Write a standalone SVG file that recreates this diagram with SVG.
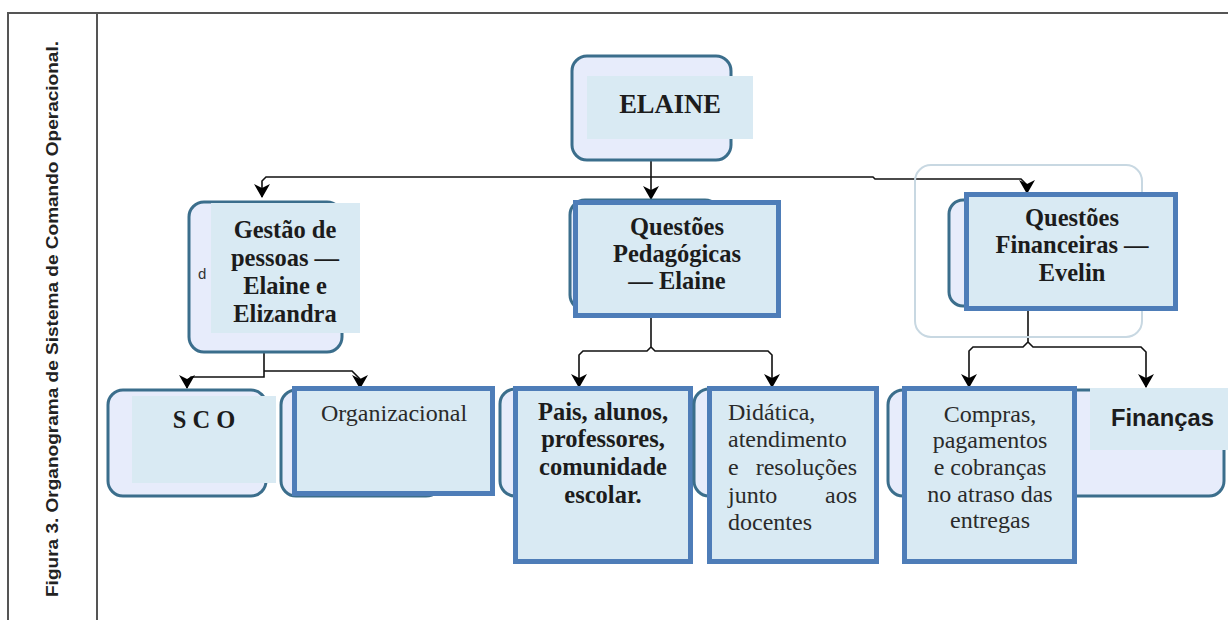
<svg xmlns="http://www.w3.org/2000/svg" width="1228" height="620" viewBox="0 0 1228 620">
<defs>
<marker id="arr" viewBox="0 0 14 16" refX="13" refY="8" markerWidth="14" markerHeight="16" markerUnits="userSpaceOnUse" orient="auto">
<path d="M0,0 L14,8 L0,16 L4,8 Z" fill="#000"/>
</marker>
</defs>
<style>
.round{fill:#e7ecfb;stroke:#3b6e8c;stroke-width:3}
.front{fill:#d9eaf3;stroke:#4e7db8;stroke-width:5}
.over{fill:#d9eaf3;stroke:none}
.faint{fill:none;stroke:#c8d8e2;stroke-width:2}
.b{font-family:"Liberation Serif",serif;font-weight:bold;font-size:24.5px;fill:#1c1c1c;text-anchor:middle}
.big{font-size:26.5px}
.r{font-family:"Liberation Serif",serif;font-size:24px;fill:#2a2a2a}
.rc{text-anchor:middle}
.conn{fill:none;stroke:#111;stroke-width:1.6}
.frame{fill:none;stroke:#555;stroke-width:2}
</style>
<rect width="1228" height="620" fill="#fff"/>
<g id="frame">
<path class="frame" d="M1228,13 L8,13 L8,620 M97,13 L97,620"/>
<text x="0" y="0" transform="translate(58,319) rotate(-90)" text-anchor="middle" font-family="'Liberation Sans',sans-serif" font-weight="bold" font-size="16.5" fill="#222" textLength="556" lengthAdjust="spacingAndGlyphs">Figura 3. Organograma de Sistema de Comando Operacional.</text>
</g>
<g id="connectors">
<path class="conn" d="M651,160 L651,199" marker-end="url(#arr)"/>
<path class="conn" d="M651,177 L266,177 L262,181 L262,197" marker-end="url(#arr)"/>
<path class="conn" d="M651,177 L873,177 L875,179 L1021,179 L1027,185 L1027,193" marker-end="url(#arr)"/>
<path class="conn" d="M264,353 L264,377 L191,377 L187,381 L187,388" marker-end="url(#arr)"/>
<path class="conn" d="M264,371 L352,371 L360,379 L360,388" marker-end="url(#arr)"/>
<path class="conn" d="M651,317 L651,347 L647,351 L583,351 L579,355 L579,387" marker-end="url(#arr)"/>
<path class="conn" d="M651,347 L655,351 L768,351 L772,355 L772,387" marker-end="url(#arr)"/>
<path class="conn" d="M1028,311 L1028,342 L1023,347 L973,347 L969,351 L969,387" marker-end="url(#arr)"/>
<path class="conn" d="M1028,342 L1033,347 L1141,347 L1146,352 L1146,387" marker-end="url(#arr)"/>
</g>
<g id="elaine">
<rect class="round" x="572" y="56" width="159" height="104" rx="15"/>
<rect class="over" x="587" y="76" width="166" height="63"/>
<text class="b big" x="670" y="113">ELAINE</text>
</g>
<g id="gestao">
<rect class="round" x="189" y="202" width="153" height="150" rx="15"/>
<rect class="over" x="211" y="203" width="149" height="130"/>
<text x="198" y="279" font-family="'Liberation Sans',sans-serif" font-size="15" fill="#333">d</text>
<text class="b" x="285" y="238">Gestão de</text>
<text class="b" x="285" y="266">pessoas —</text>
<text class="b" x="285" y="294">Elaine e</text>
<text class="b" x="285" y="322">Elizandra</text>
</g>
<g id="pedagogicas">
<rect class="round" x="570" y="200" width="150" height="110" rx="15"/>
<rect class="front" x="575.5" y="202.5" width="203" height="113"/>
<text class="b" x="677" y="235">Questões</text>
<text class="b" x="677" y="262">Pedagógicas</text>
<text class="b" x="677" y="289">— Elaine</text>
</g>
<g id="financeiras">
<rect class="faint" x="915" y="165" width="227" height="172" rx="16"/>
<rect class="round" x="949" y="200" width="60" height="106" rx="14"/>
<rect class="front" x="966.5" y="194.5" width="209" height="114"/>
<text class="b" x="1072" y="226">Questões</text>
<text class="b" x="1072" y="253">Financeiras —</text>
<text class="b" x="1072" y="281">Evelin</text>
</g>
<g id="sco">
<rect class="round" x="108" y="390" width="158" height="106" rx="15"/>
<rect class="over" x="132" y="396" width="144" height="87"/>
<text class="b" x="204" y="428">S C O</text>
</g>
<g id="organizacional">
<rect class="round" x="281" y="390" width="160" height="106" rx="15"/>
<rect class="front" x="294.5" y="388.5" width="198" height="105"/>
<text class="r rc" x="394" y="421">Organizacional</text>
</g>
<g id="pais">
<rect class="round" x="500" y="389" width="60" height="107" rx="15"/>
<rect class="front" x="515.5" y="388.5" width="175" height="173"/>
<text class="b" x="603" y="420">Pais, alunos,</text>
<text class="b" x="603" y="447">professores,</text>
<text class="b" x="603" y="475">comunidade</text>
<text class="b" x="603" y="503">escolar.</text>
</g>
<g id="didatica">
<rect class="round" x="694" y="389" width="60" height="107" rx="15"/>
<rect class="front" x="709.5" y="388.5" width="167" height="173"/>
<text class="r" x="728" y="420">Didática,</text>
<text class="r" x="728" y="447">atendimento</text>
<text class="r" x="728" y="475">e</text>
<text class="r" x="857" y="475" text-anchor="end">resoluções</text>
<text class="r" x="728" y="503">junto</text>
<text class="r" x="857" y="503" text-anchor="end">aos</text>
<text class="r" x="728" y="530">docentes</text>
</g>
<g id="compras">
<rect class="round" x="888" y="390" width="336" height="106" rx="15"/>
<rect class="front" x="904.5" y="388.5" width="170" height="173"/>
<text class="r rc" x="990" y="422">Compras,</text>
<text class="r rc" x="990" y="448">pagamentos</text>
<text class="r rc" x="990" y="475">e cobranças</text>
<text class="r rc" x="990" y="502">no atraso das</text>
<text class="r rc" x="990" y="528">entregas</text>
</g>
<g id="financas">
<rect class="over" x="1090" y="388" width="138" height="62"/>
<text x="1111" y="426" font-family="'Liberation Sans',sans-serif" font-weight="bold" font-size="23" fill="#1c1c1c" textLength="103" lengthAdjust="spacingAndGlyphs">Finanças</text>
</g>
</svg>
